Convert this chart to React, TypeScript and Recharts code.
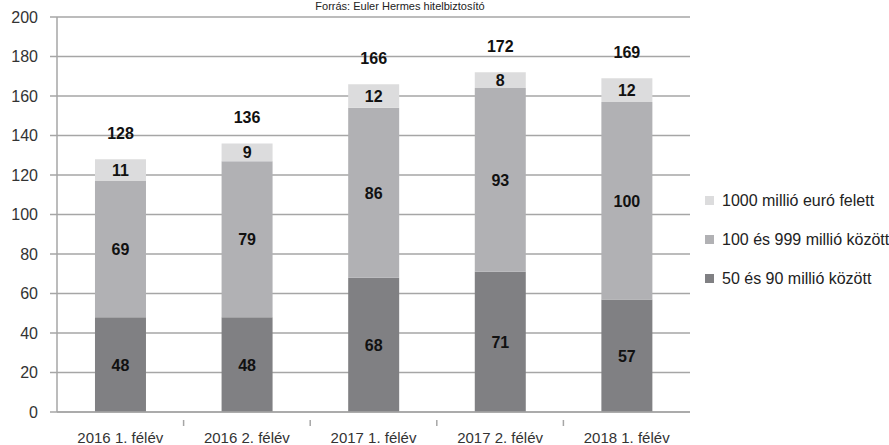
import { BarChart, Bar, XAxis, YAxis, CartesianGrid, LabelList } from 'recharts'

const FONT = "'Liberation Sans', Arial, sans-serif"

// Adatok — Forrás: Euler Hermes hitelbiztosító
const categories = ['2016 1. félév', '2016 2. félév', '2017 1. félév', '2017 2. félév', '2018 1. félév']
const small = [48, 48, 68, 71, 57] // 50 és 90 millió között
const mid = [69, 79, 86, 93, 100] // 100 és 999 millió között
const large = [11, 9, 12, 8, 12] // 1000 millió euró felett
const totals = [128, 136, 166, 172, 169]
const yTicks = [0, 20, 40, 60, 80, 100, 120, 140, 160, 180, 200]

const COLORS = { small: '#808083', mid: '#b1b1b4', large: '#dcdcdd' }
const GRID = '#a6a6a6'

const W = 889
const H = 445
const M = { top: 17, right: 199, left: 0, bottom: 0 }
const Y_W = 57
const PLOT_W = W - M.right - Y_W
const BAND = PLOT_W / categories.length

const data = categories.map((name, i) => ({
  name,
  small: small[i],
  mid: mid[i],
  large: large[i],
  total: totals[i],
}))

const legendItems = [
  { label: '1000 millió euró felett', color: COLORS.large },
  { label: '100 és 999 millió között', color: COLORS.mid },
  { label: '50 és 90 millió között', color: COLORS.small },
]

// category label at the band centre, small tick mark at the band boundary
function CatTick({ x, y, payload, index }: { x?: number; y?: number; payload?: { value: string }; index?: number }) {
  const cx = x ?? 0
  const cy = y ?? 0
  return (
    <g>
      {index !== 0 && (
        <line x1={cx - BAND / 2} x2={cx - BAND / 2} y1={cy} y2={cy + 6} stroke={GRID} strokeWidth={1.5} />
      )}
      <text x={cx} y={cy} dy={23} textAnchor="middle" fill="#333" fontSize={15} fontFamily={FONT}>
        {payload?.value}
      </text>
    </g>
  )
}

function TotalLabel(props: any) {
  const { x, y, width, index } = props
  return (
    <text x={x + width / 2} y={y - 20} textAnchor="middle" fill="#111" fontSize={16} fontWeight="bold" fontFamily={FONT}>
      {totals[index]}
    </text>
  )
}

function SegLabel(props: any) {
  const { x, y, width, height, value } = props
  return (
    <text x={x + width / 2} y={y + height / 2} dy={6} textAnchor="middle" fill="#111" fontSize={16} fontWeight="bold" fontFamily={FONT}>
      {value}
    </text>
  )
}

export default function App() {
  return (
    <div style={{ position: 'absolute', left: 0, top: 0, width: W, height: H, background: '#fff', overflow: 'hidden' }}>
      <div style={{ position: 'absolute', top: 0, left: 0, width: 800, textAlign: 'center', fontFamily: FONT, fontSize: 11, lineHeight: '12px', color: '#222', zIndex: 2 }}>
        Forrás: Euler Hermes hitelbiztosító
      </div>
      <div style={{ position: 'absolute', left: 705, top: 181, fontFamily: FONT, fontSize: 16, color: '#222', zIndex: 2 }}>
        {legendItems.map((it) => (
          <div key={it.label} style={{ display: 'flex', alignItems: 'center', height: 39, whiteSpace: 'nowrap' }}>
            <span style={{ width: 9, height: 9, background: it.color, marginRight: 8, display: 'inline-block', flex: 'none' }} />
            <span>{it.label}</span>
          </div>
        ))}
      </div>
      <BarChart width={W} height={H} data={data} margin={M} barCategoryGap="30%">
        <CartesianGrid vertical={false} stroke={GRID} strokeWidth={1.5} />
        <XAxis
          dataKey="name"
          height={33}
          interval={0}
          tickLine={false}
          axisLine={{ stroke: GRID, strokeWidth: 1.5 }}
          tick={<CatTick />}
        />
        <YAxis
          width={Y_W}
          domain={[0, 200]}
          ticks={yTicks}
          interval={0}
          tickSize={7}
          tickMargin={12}
          tickLine={{ stroke: GRID, strokeWidth: 1.5 }}
          axisLine={{ stroke: GRID, strokeWidth: 1.5 }}
          tick={{ fontSize: 16, fill: '#333', fontFamily: FONT }}
        />
        <Bar dataKey="small" stackId="s" fill={COLORS.small} isAnimationActive={false}>
          <LabelList dataKey="small" content={<SegLabel />} />
        </Bar>
        <Bar dataKey="mid" stackId="s" fill={COLORS.mid} isAnimationActive={false}>
          <LabelList dataKey="mid" content={<SegLabel />} />
        </Bar>
        <Bar dataKey="large" stackId="s" fill={COLORS.large} isAnimationActive={false}>
          <LabelList dataKey="large" content={<SegLabel />} />
          <LabelList dataKey="total" content={<TotalLabel />} />
        </Bar>
      </BarChart>
    </div>
  )
}
